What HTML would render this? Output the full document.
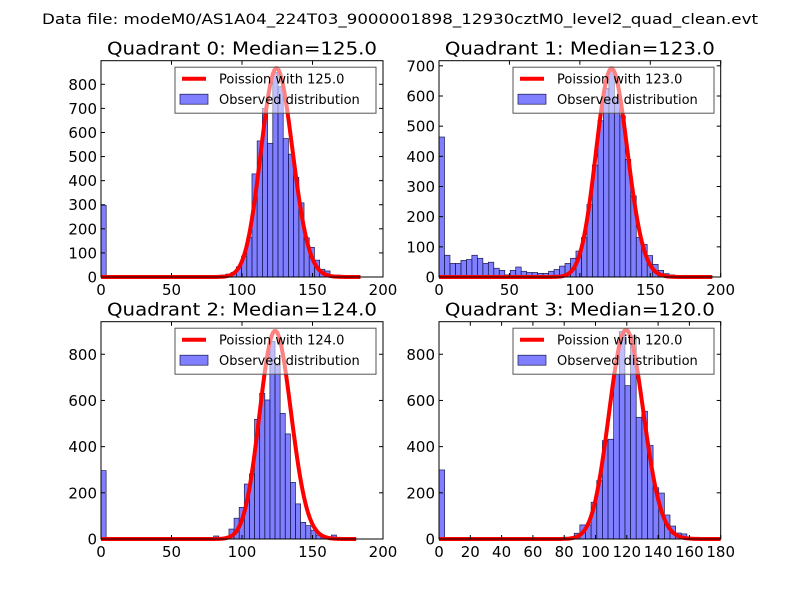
<!DOCTYPE html>
<html><head><meta charset="utf-8"><style>
body{margin:0;background:#fff;}
svg{display:block;font-family:"DejaVu Sans","Liberation Sans",sans-serif;}
</style></head><body>
<svg id="chart" width="800" height="600">
<rect width="800" height="600" fill="#fff"/>
<text x="400" y="24" text-anchor="middle" font-size="14" textLength="716" lengthAdjust="spacingAndGlyphs">Data file: modeM0/AS1A04_224T03_9000001898_12930cztM0_level2_quad_clean.evt</text>
</svg>
<script>
const medians = [125, 123, 124, 120];
const curvePeaks = [866, 691, 901, 905];
const dataMax = [184.6, 194.5, 181.5, 180];
const yMaxes = [898, 717, 941, 941];
const xMaxes = [200, 200, 200, 180];
const xTickLabels = [[0,50,100,150,200],[0,50,100,150,200],[0,50,100,150,200],[0,20,40,60,80,100,120,140,160,180]];
const yTickLabels = [[0,100,200,300,400,500,600,700,800],[0,100,200,300,400,500,600,700],[0,200,400,600,800],[0,200,400,600,800]];
const counts0 = [298,0,0,0,0,0,0,0,0,0,0,0,0,0,0,0,0,0,0,0,3,4,6,8,12,19,42,87,165,428,565,700,555,850,790,575,510,414,308,163,123,70,32,25,8,8,0,0,0,0];
const counts1 = [464,72,45,45,55,58,72,62,45,49,29,22,7,22,33,19,15,15,12,12,19,25,36,45,62,86,131,240,371,518,625,685,597,534,390,269,131,108,71,42,22,11,7,3,2,1,1,1,1,1];
const counts2 = [296,0,0,0,0,0,0,0,0,0,0,0,0,0,0,0,0,0,0,0,0,0,13,0,0,43,90,137,238,282,518,631,602,855,751,544,455,245,152,72,58,38,17,14,0,17,0,0,0,0];
const counts3 = [299,0,0,0,0,0,0,0,0,0,0,0,0,0,0,0,0,0,0,0,0,0,0,0,25,61,61,159,253,426,432,713,898,664,880,527,553,405,222,199,104,56,26,22,0,6,0,0,0,0];
const allCounts = [counts0, counts1, counts2, counts3];
const boxes = [[101,60.7,383,277],[439,60.7,720.7,277],[101,321.7,383,539],[439,321.7,720.7,539]];
const NS = 'http://www.w3.org/2000/svg';
const svg = document.getElementById('chart');
function mk(tag, attrs, parent){const e=document.createElementNS(NS,tag);for(const k in attrs)e.setAttribute(k,attrs[k]);(parent||svg).appendChild(e);return e;}
function lgamma(n){let s=0;for(let i=2;i<=n;i++)s+=Math.log(i);return s;}
function logpmf(k,mu){return k*Math.log(mu)-mu-lgamma(k);}
for(let q=0;q<4;q++){
  const [L,T,R,B]=boxes[q];
  const xs=v=>L+(R-L)*v/xMaxes[q];
  const ys=v=>B-(B-T)*v/yMaxes[q];
  const g=mk('g',{});
  
  
  const t=mk('text',{x:(L+R)/2,y:T-6,'text-anchor':'middle','font-size':'18',textLength:'270',lengthAdjust:'spacingAndGlyphs'},g);
  t.textContent='Quadrant '+q+': Median='+medians[q].toFixed(1);
  
  
  const counts=allCounts[q];
  const bw=dataMax[q]/counts.length;
  counts.forEach((c,i)=>{
    if(c<=0)return;
    const r=mk('rect',{x:xs(i*bw),y:ys(c),width:xs(bw)-xs(0),height:ys(0)-ys(c),fill:'rgba(0,0,255,0.5)',stroke:'#1a1a4d','stroke-width':'0.7'},g);
    
    
  });
  const mu=medians[q];const peak=logpmf(Math.floor(mu),mu);
  let d='';
  for(let k=0;k<=Math.floor(dataMax[q]);k++){
    const v=curvePeaks[q]*Math.exp(logpmf(k,mu)-peak);
    d+=(k?'L':'M')+xs(k).toFixed(2)+','+ys(v).toFixed(2);
  }
  const p=mk('path',{d:d,fill:'none',stroke:'#ff0000','stroke-width':'4','stroke-linejoin':'round'},g);
  
  
  const lx=L+74, ly=T+6.5;
  const lg=mk('g',{},g);
  
  
  mk('rect',{x:lx,y:ly,width:201,height:46,fill:'rgba(255,255,255,0.5)',stroke:'#555','stroke-width':'1'},lg);
  mk('line',{x1:lx+7,x2:lx+31,y1:ly+11.5,y2:ly+11.5,stroke:'#ff0000','stroke-width':'4'},lg);
  const t1=mk('text',{x:lx+44,y:ly+16.5,'font-size':'13'},lg);t1.textContent='Poission with '+mu.toFixed(1);
  
  
  mk('rect',{x:lx+5,y:ly+27,width:28,height:10,fill:'rgba(0,0,255,0.5)',stroke:'#1a1a4d','stroke-width':'0.7'},lg);
  const t2=mk('text',{x:lx+44,y:ly+37,'font-size':'13'},lg);t2.textContent='Observed distribution';
  
  
  mk('rect',{x:L,y:T,width:R-L,height:B-T,fill:'none',stroke:'#000','stroke-width':'1'},g);
  xTickLabels[q].forEach(v=>{
    const x=xs(v);
    mk('line',{x1:x,x2:x,y1:B,y2:B-4,stroke:'#000'},g);
    mk('line',{x1:x,x2:x,y1:T,y2:T+4,stroke:'#000'},g);
    const tl=mk('text',{x:x,y:B+18,'text-anchor':'middle','font-size':'15'},g);tl.textContent=v;
    
    
  });
  yTickLabels[q].forEach(v=>{
    const y=ys(v);
    mk('line',{x1:L,x2:L+4,y1:y,y2:y,stroke:'#000'},g);
    mk('line',{x1:R,x2:R-4,y1:y,y2:y,stroke:'#000'},g);
    const tl=mk('text',{x:L-4,y:y+5.5,'text-anchor':'end','font-size':'15'},g);tl.textContent=v;
    
    
  });
}
</script>
</body></html>
